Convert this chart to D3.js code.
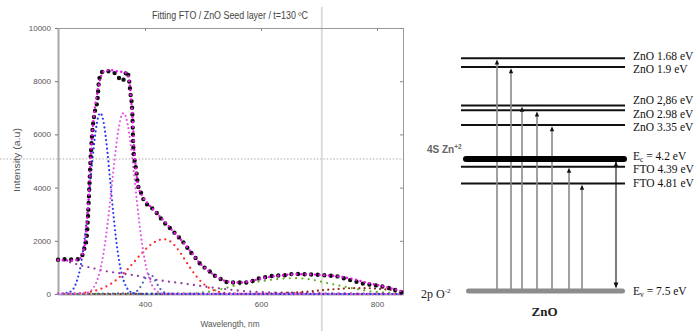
<!DOCTYPE html>
<html><head><meta charset="utf-8">
<script src="https://cdn.jsdelivr.net/npm/d3@7"></script>
<style>body{margin:0;background:#fff}svg{display:block}</style>
</head><body>
<svg id="c" width="695" height="331"></svg>
<script>
// ---------- spectrum data (wavelength nm, intensity a.u.) ----------
const xTicks = [400, 600, 800];
const yTicks = [0, 2000, 4000, 6000, 8000, 10000];

const wlMeasured = [250,262,273,285,292,296,299,302,304,306,309,314,318,321,328,340,349,354,361,369,372,375,378,380,383,385,388,393,398,412,422,431,443,455,466,476,486,497,509,519,531,541,551,563,575,586,598,610,620,632,644,654,666,678,689,701,713,723,735,748,759,774,793,811,828,843];
const measured = [1290,1310,1300,1310,1460,1760,2030,3000,4000,5000,6040,6900,7280,8070,8370,8370,8280,8150,8000,8370,8140,7540,6900,5500,4900,4650,4090,3820,3530,3230,3000,2740,2480,2210,1950,1650,1390,1090,900,710,560,450,430,430,430,490,600,640,680,700,710,750,750,740,730,720,700,680,650,550,500,400,340,275,175,60];

const wlFitSum = [250,270,285,292,297,301,304,306,309,313,318,323,330,340,350,360,368,373,376,379,381,384,388,395,405,420,435,450,465,480,495,510,525,540,555,570,585,600,620,640,660,680,700,720,740,760,780,800,820,845];
const fitSum = [1280,1260,1290,1500,2000,3000,4000,5000,6000,6900,7600,8100,8380,8420,8380,8350,8300,8000,7300,6500,5600,4800,4100,3700,3400,3050,2700,2320,1970,1560,1150,860,640,480,430,440,500,580,660,710,740,740,720,690,640,560,440,340,240,90];

const wlBlue = [250,270,280,290,295,300,305,310,315,320,323,326,330,335,340,345,350,355,360,365,370,380,390,845];
const blueBand = [0,73,343,1172,1917,2895,4030,5175,6133,6702,6800,6702,6283,5390,4265,3114,2096,1302,746,394,192,36,5,0];

const wlPink = [250,300,310,320,330,335,340,345,350,355,360,363,366,370,375,380,385,390,395,400,405,410,420,430,440,845];
const pinkBand = [0,48,203,674,1743,2551,3510,4536,5505,6277,6724,6800,6724,6396,5680,4738,3713,2734,1890,1228,750,430,117,25,4,0];

const wlSmallBlue = [250,380,385,390,395,400,405,408,411,415,420,425,430,435,440,450,845];
const smallBlueBand = [0,29,84,197,373,576,723,750,723,613,414,227,101,37,11,2,0];

const wlRed = [250,290,300,310,320,330,340,350,360,370,380,390,400,410,420,433,440,450,460,470,480,490,500,510,520,530,540,550,570,845];
const redBand = [10,35,60,100,160,247,366,519,710,931,1174,1423,1657,1853,1991,2060,2023,1854,1579,1249,919,628,400,236,130,66,31,14,5,0];

const wlGreen = [250,480,500,520,540,560,580,600,620,640,655,670,690,710,730,750,770,790,810,830,845];
const greenBand = [0,25,60,130,230,340,420,480,540,580,595,585,530,430,340,250,165,100,60,35,20];

const wlBrown = [250,580,600,620,650,680,700,720,740,760,780,800,820,845];
const brownBand = [0,5,10,20,50,90,130,170,200,220,220,200,160,100];

const wlPurple = [250,270,290,310,330,350,370,390,410,430,450,470,490,510,530,550,570,600,650,700,750,800,845];
const purpleBand = [1320,1200,1070,970,870,800,740,670,570,500,440,385,320,260,205,155,110,70,45,30,20,12,8];

const cursorWl = 705, cursorValue = 5075;

// ---------- energy diagram data ----------
const levelEnergy = [1.68, 1.9, 2.86, 2.98, 3.35, 4.2, 4.39, 4.81];
const levelLabel  = ["ZnO 1.68 eV","ZnO 1.9 eV","ZnO 2,86 eV","ZnO 2.98 eV","ZnO 3.35 eV","E_c = 4.2 eV","FTO 4.39 eV","FTO 4.81 eV"];
const valenceEnergy = 7.5, valenceLabel = "E_v  = 7.5 eV";
const conductionEnergy = 4.2;
const excitationTarget = [1.68, 1.9, 2.86, 2.98, 3.35, 4.39, 4.81];
const excitationPos    = [0, 14, 25, 40, 55, 72, 85];   // horizontal order (arbitrary units)
const emissionPos = 119;

// ---------- drawing ----------
const svg = d3.select("#c");
const FONT = "'Liberation Sans', Arial, sans-serif";
const SERIF = "'Liberation Serif', 'Times New Roman', serif";

const x = d3.scaleLinear().domain([250, 845]).range([58, 403]);
const y = d3.scaleLinear().domain([0, 10000]).range([294, 28]);

// cursor lines
svg.append("line").attr("x1", x(cursorWl)).attr("x2", x(cursorWl)).attr("y1", 7).attr("y2", 331)
  .attr("stroke", "#dcdcdc").attr("stroke-width", 2);
svg.append("line").attr("x1", 0).attr("x2", 405).attr("y1", y(cursorValue)).attr("y2", y(cursorValue))
  .attr("stroke", "#c8c8c8").attr("stroke-width", 1.3).attr("stroke-dasharray", "1.5,1.8");

// axes frame
const gT = svg.append("g").attr("transform", `translate(0,${y(10000)})`)
  .call(d3.axisBottom(x).tickValues(xTicks).tickSize(3).tickFormat(""));
const gR = svg.append("g").attr("transform", `translate(${x(845)},0)`)
  .call(d3.axisLeft(y).tickValues(yTicks).tickSize(3).tickFormat(""));
[gT, gR].forEach(g => { g.selectAll("path").attr("stroke", "#9a9a9a").attr("stroke-width", 1);
  g.selectAll("line").attr("stroke", "#888"); });

const gL = svg.append("g").attr("transform", `translate(${x(250)},0)`)
  .call(d3.axisLeft(y).tickValues(yTicks).tickSize(3).tickSizeOuter(0).tickFormat(d3.format("d")));
const gB = svg.append("g").attr("transform", `translate(0,${y(0)})`)
  .call(d3.axisBottom(x).tickValues(xTicks).tickSize(0).tickSizeOuter(0).tickPadding(7));
[gL, gB].forEach(g => {
  g.selectAll("path").attr("stroke", "#a8a8a8").attr("stroke-width", 2);
  g.selectAll("line").attr("stroke", "#777");
  g.selectAll("text").attr("font-family", FONT).attr("font-size", 8).attr("fill", "#555");
});
gL.selectAll("text").attr("dx", "-1");

// series
const line = d3.line().x(d => x(d[0])).y(d => y(d[1])).curve(d3.curveMonotoneX);
const zipS = (a, b) => a.map((v, i) => [v, b[i]]);
const series = [
  {w: wlPurple,    v: purpleBand,    c: "#913ba0", sw: 2.3, da: "0,6.3"},
  {w: wlGreen,     v: greenBand,     c: "#5cb020", sw: 2.2, da: "0,6.3"},
  {w: wlBrown,     v: brownBand,     c: "#8f2a14", sw: 2.2, da: "0,5.2"},
  {w: wlRed,       v: redBand,       c: "#ff2a2a", sw: 2.3, da: "0,5.5"},
  {w: wlSmallBlue, v: smallBlueBand, c: "#4a67b8", sw: 2.3, da: "0,5"},
  {w: wlBlue,      v: blueBand,      c: "#2238f0", sw: 2.2, da: "0,4.3"},
  {w: wlPink,      v: pinkBand,      c: "#e35ae3", sw: 2.2, da: "0,4.3"},
  {w: wlMeasured,  v: measured,      c: "#111111", sw: 4.4, da: "0,6.6"},
  {w: wlFitSum,    v: fitSum,        c: "#ee11ee", sw: 2.4, da: "0,4.6"}
];
series.forEach(s => {
  svg.append("path").datum(zipS(s.w, s.v)).attr("d", line)
    .attr("fill", "none").attr("stroke", s.c).attr("stroke-width", s.sw)
    .attr("stroke-linecap", "round").attr("stroke-dasharray", s.da);
});

// titles
svg.append("text").attr("x", 230).attr("y", 19).attr("text-anchor", "middle")
  .attr("font-family", FONT).attr("font-size", 10).attr("fill", "#444")
  .attr("textLength", 156).attr("lengthAdjust", "spacingAndGlyphs")
  .text("Fitting FTO / ZnO Seed layer / t=130 ºC");
svg.append("text").attr("x", 230).attr("y", 327).attr("text-anchor", "middle")
  .attr("font-family", FONT).attr("font-size", 9.5).attr("fill", "#555")
  .attr("textLength", 59).attr("lengthAdjust", "spacingAndGlyphs").text("Wavelength, nm");
svg.append("text").attr("transform", "translate(20,160) rotate(-90)").attr("text-anchor", "middle")
  .attr("font-family", FONT).attr("font-size", 9.5).attr("fill", "#555")
  .attr("textLength", 64).attr("lengthAdjust", "spacingAndGlyphs").text("Intensity (a.u)");

// ---------- energy diagram ----------
const ey = d3.scaleLinear().domain([1.68, 7.5]).range([58.3, 291]);
const ex = d3.scaleLinear().domain([0, 119]).range([497, 616]);
const g2 = svg.append("g");

// thin level lines
levelEnergy.forEach(e => {
  if (e === conductionEnergy) return;
  g2.append("line").attr("x1", ex(-36)).attr("x2", ex(128)).attr("y1", ey(e)).attr("y2", ey(e))
    .attr("stroke", "#111").attr("stroke-width", 2);
});

// excitation lines (gray) with arrowheads
const arrowUp = (cx, tip) => `M${cx},${tip} L${cx - 2.2},${tip + 5} L${cx + 2.2},${tip + 5} Z`;
const arrowDown = (cx, tip) => `M${cx},${tip} L${cx - 2.4},${tip - 6} L${cx + 2.4},${tip - 6} Z`;
excitationTarget.forEach((e, i) => {
  const cx = ex(excitationPos[i]);
  g2.append("line").attr("x1", cx).attr("x2", cx).attr("y1", ey(valenceEnergy)).attr("y2", ey(e) + 3)
    .attr("stroke", "#8a8a8a").attr("stroke-width", 1.6);
  g2.append("path").attr("d", arrowUp(cx, ey(e) + 1.2)).attr("fill", "#111");
});

// conduction band (thick) & valence band (gray)
g2.append("line").attr("x1", ex(-31)).attr("x2", ex(127)).attr("y1", ey(conductionEnergy)).attr("y2", ey(conductionEnergy))
  .attr("stroke", "#000").attr("stroke-width", 6).attr("stroke-linecap", "round");
g2.append("line").attr("x1", ex(-28.5)).attr("x2", ex(125.5)).attr("y1", ey(valenceEnergy)).attr("y2", ey(valenceEnergy))
  .attr("stroke", "#8c8c8c").attr("stroke-width", 5).attr("stroke-linecap", "round");

// emission arrow
{
  const cx = ex(emissionPos);
  g2.append("line").attr("x1", cx).attr("x2", cx).attr("y1", ey(conductionEnergy) + 3).attr("y2", ey(valenceEnergy) - 6)
    .attr("stroke", "#111").attr("stroke-width", 1.1);
  g2.append("path").attr("d", arrowDown(cx, ey(valenceEnergy) - 2.5)).attr("fill", "#111");
  g2.append("path").attr("d", arrowUp(cx, ey(conductionEnergy) + 2.5)).attr("fill", "#111");
}

// level labels with simple collision avoidance
const GAP = 13.2;
const pos = levelEnergy.map(e => ey(e));
for (let it = 0; it < 120; it++) {
  for (let i = 1; i < pos.length; i++) {
    const d = pos[i] - pos[i - 1];
    if (d < GAP) { const s = (GAP - d) / 2; pos[i - 1] -= s; pos[i] += s; }
  }
}
function addLabel(txt, yy) {
  const t = g2.append("text").attr("x", ex(136)).attr("y", yy + 4)
    .attr("font-family", SERIF).attr("font-size", 11.5).attr("fill", "#111");
  const parts = txt.split("_");
  if (parts.length === 1) { t.text(txt); return; }
  t.append("tspan").text(parts[0]);
  t.append("tspan").attr("font-size", 7.5).attr("dy", 2).text(parts[1][0]);
  t.append("tspan").attr("dy", -2).text(parts[1].slice(1));
}
levelLabel.forEach((l, i) => addLabel(l, pos[i]));
addLabel(valenceLabel, ey(valenceEnergy));

// side labels
const zn = g2.append("text").attr("x", 427).attr("y", 153)
  .attr("font-family", FONT).attr("font-size", 10).attr("font-weight", "bold").attr("fill", "#666");
zn.append("tspan").text("4S Zn");
zn.append("tspan").attr("font-size", 6.5).attr("dy", -4).text("+2");

const op = g2.append("text").attr("x", 421).attr("y", ey(valenceEnergy) + 7)
  .attr("font-family", SERIF).attr("font-size", 12).attr("fill", "#222");
op.append("tspan").text("2p O");
op.append("tspan").attr("font-size", 7).attr("dy", -5).text("-2");

g2.append("text").attr("x", 544.5).attr("y", 316).attr("text-anchor", "middle")
  .attr("font-family", SERIF).attr("font-size", 13).attr("font-weight", "bold").attr("fill", "#222").text("ZnO");
</script>
</body></html>
